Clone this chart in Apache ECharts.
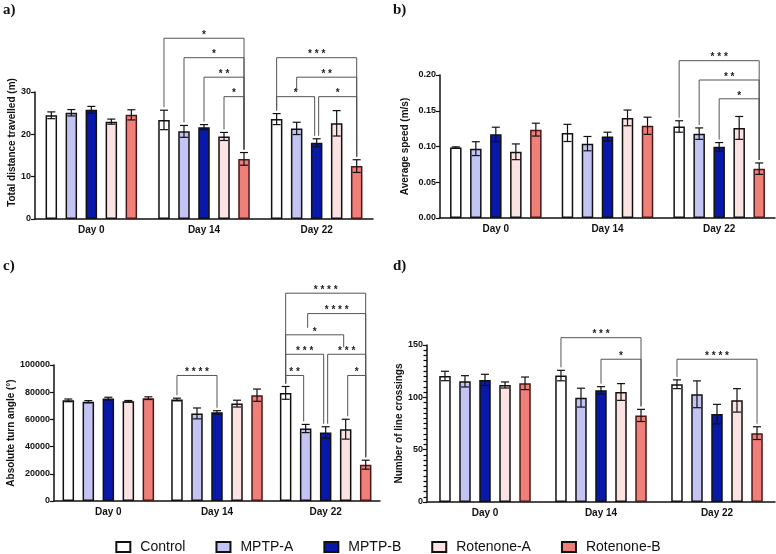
<!DOCTYPE html>
<html>
<head>
<meta charset="utf-8">
<script src="https://cdn.jsdelivr.net/npm/echarts@6/dist/echarts.min.js"></script>
<style>
  html, body { margin: 0; padding: 0; background: #fff; }
  #chart { width: 776px; height: 554px; }
</style>
</head>
<body>
<div id="chart"></div>
<script>
// categories
const days = ["Day 0", "Day 14", "Day 22"];
const groups = ["Control", "MPTP-A", "MPTP-B", "Rotenone-A", "Rotenone-B"];
const fills = ["#ffffff", "#c4c4f4", "#0818a8", "#fce3e3", "#ef8079"];
const borders = ["#111", "#111", "#111", "#111", "#4a1818"];

// a) total distance travelled (m), one row per group, one value per day
const distMean = [[24.5, 23.4, 23.6], [25.1, 20.7, 21.4], [25.8, 21.7, 18.0], [23.0, 19.5, 22.6], [24.6, 14.2, 12.5]];
const distErr = [[0.8, 2.3, 1.3], [0.75, 1.4, 1.45], [0.8, 0.6, 0.95], [0.6, 0.95, 3.0], [1.2, 1.5, 1.5]];
// [day, from group, to group, level, stars]
const distSig = [
  [1, 0, 4, 42.7, "*"], [1, 1, 4, 38.1, "*"], [1, 2, 4, 33.5, "**"], [1, 3, 4, 28.9, "*"],
  [2, 0, 4, 38.1, "***"], [2, 1, 4, 33.5, "**"], [2, 0, 2, 28.9, "*"], [2, 2, 4, 28.9, "*"]
];

// b) average speed (m/s)
const speedMean = [[0.0985, 0.119, 0.128], [0.097, 0.104, 0.118], [0.117, 0.114, 0.0995], [0.0926, 0.140, 0.126], [0.1236, 0.129, 0.069]];
const speedErr = [[0.001, 0.012, 0.008], [0.0097, 0.010, 0.008], [0.010, 0.006, 0.006], [0.011, 0.011, 0.016], [0.009, 0.012, 0.008]];
const speedSig = [[2, 0, 4, 0.220, "***"], [2, 1, 4, 0.193, "**"], [2, 2, 4, 0.1667, "*"]];

// c) absolute turn angle (°)
const turnMean = [[74000, 74600, 79500], [73000, 64400, 53300], [75300, 65200, 50400], [73300, 71600, 52800], [75600, 77800, 26700]];
const turnErr = [[1000, 1000, 4700], [800, 4000, 3000], [1000, 1200, 4200], [600, 2500, 7300], [1000, 4500, 3300]];
const turnSig = [
  [1, 0, 2, 92300, "****"],
  [2, 0, 4, 152800, "****"], [2, 1, 4, 137800, "****"], [2, 0, 3, 122200, "*"],
  [2, 0, 2, 107900, "***"], [2, 2, 4, 107900, "***"], [2, 0, 1, 92300, "**"], [2, 3, 4, 92300, "*"]
];

// d) number of line crossings
const crossMean = [[120.4, 120.8, 112.5], [115.3, 99.7, 102.9], [116.6, 106.7, 84.0], [111.8, 105.1, 97.1], [113.4, 82.7, 65.8]];
const crossErr = [[4.5, 5, 4.2], [5.4, 9, 12.8], [5.4, 3.5, 9.3], [2.9, 8, 11.2], [6, 5.8, 6.1]];
const crossSig = [[1, 0, 4, 157, "***"], [1, 2, 4, 136.4, "*"], [2, 0, 4, 136.4, "****"]];

const BAR_W = 11.5;
const BAR_GAP = 0.74;
const FONT = "'Liberation Sans', Arial, sans-serif";

function barX(api, day, g) {
  const c = api.coord([day, 0]);
  const total = groups.length * BAR_W + (groups.length - 1) * BAR_W * BAR_GAP;
  return c[0] - total / 2 + g * BAR_W * (1 + BAR_GAP) + BAR_W / 2;
}

const panels = [
  { mean: distMean, err: distErr, sig: distSig },
  { mean: speedMean, err: speedErr, sig: speedSig },
  { mean: turnMean, err: turnErr, sig: turnSig },
  { mean: crossMean, err: crossErr, sig: crossSig }
];

const series = [];
panels.forEach(function (p, pi) {
  groups.forEach(function (name, g) {
    series.push({
      name: name,
      type: "bar",
      xAxisIndex: pi,
      yAxisIndex: pi,
      barWidth: BAR_W,
      barGap: BAR_GAP * 100 + "%",
      data: p.mean[g],
      itemStyle: { color: fills[g], borderColor: borders[g], borderWidth: 1.5 },
      emphasis: { disabled: true },
      silent: true
    });
  });

  // error bars
  const errData = [];
  groups.forEach(function (name, g) {
    days.forEach(function (d, di) {
      errData.push([di, p.mean[g][di], p.err[g][di], g]);
    });
  });
  series.push({
    type: "custom",
    xAxisIndex: pi,
    yAxisIndex: pi,
    z: 5,
    silent: true,
    encode: { x: 0, y: 1 },
    data: errData,
    renderItem: function (params, api) {
      const di = api.value(0), m = api.value(1), e = api.value(2), g = api.value(3);
      const x = barX(api, di, g);
      const top = api.coord([di, m + e])[1];
      const bot = api.coord([di, m - e])[1];
      const st = { stroke: "#111", lineWidth: 1.2 };
      return {
        type: "group",
        children: [
          { type: "line", shape: { x1: x, y1: top, x2: x, y2: bot }, style: st },
          { type: "line", shape: { x1: x - 4, y1: top, x2: x + 4, y2: top }, style: st },
          { type: "line", shape: { x1: x - 4, y1: bot, x2: x + 4, y2: bot }, style: st }
        ]
      };
    }
  });

  // significance brackets
  series.push({
    type: "custom",
    xAxisIndex: pi,
    yAxisIndex: pi,
    z: 6,
    silent: true,
    clip: false,
    encode: { x: 0, y: 1 },
    data: p.sig.map(function (b) { return [b[0], b[3]]; }),
    renderItem: function (params, api) {
      const b = p.sig[params.dataIndex];
      const di = b[0], from = b[1], to = b[2], level = b[3];
      const same = p.sig.filter(function (o) { return o[0] === di && o !== b; });
      function legBottom(g) {
        let block = null;
        same.forEach(function (o) {
          if (o[3] < level && o[1] < g && g < o[2]) block = block === null ? o[3] : Math.max(block, o[3]);
        });
        if (block !== null) return api.coord([di, block])[1] - 7;
        return api.coord([di, p.mean[g][di] + p.err[g][di]])[1] - 3;
      }
      let xl = barX(api, di, from);
      let xr = barX(api, di, to);
      if (same.some(function (o) { return o[2] === from; })) xl += 2;
      if (same.some(function (o) { return o[1] === to; })) xr -= 2;
      const y = api.coord([di, level])[1];
      const st = { stroke: "#555", lineWidth: 1 };
      return {
        type: "group",
        children: [
          { type: "polyline", shape: { points: [[xl, legBottom(from)], [xl, y], [xr, y], [xr, legBottom(to)]] }, style: Object.assign({ fill: null }, st) },
          { type: "text", style: { x: (xl + xr) / 2, y: y + 2, text: b[4].split("").join(" "), font: "bold 10px " + FONT, fill: "#222", align: "center", verticalAlign: "bottom" } }
        ]
      };
    }
  });
});

const labelStyle = { fontSize: 9, fontWeight: "bold", color: "#111", margin: 4, fontFamily: FONT };
const nameStyle = { fontSize: 10, fontWeight: "bold", color: "#111", fontFamily: FONT };

function yAxis(gi, max, interval, name, nameGap, extra) {
  return Object.assign({
    type: "value",
    gridIndex: gi,
    min: 0,
    max: max,
    interval: interval,
    name: name,
    nameLocation: "middle",
    nameGap: nameGap,
    nameTextStyle: nameStyle,
    axisLine: { show: true, lineStyle: { color: "#111", width: 1.5 } },
    axisTick: { show: true, length: 4, lineStyle: { color: "#111", width: 1.2 } },
    axisLabel: labelStyle,
    splitLine: { show: false }
  }, extra || {});
}

function xAxis(gi) {
  return {
    type: "category",
    gridIndex: gi,
    data: days,
    axisLine: { lineStyle: { color: "#111", width: 1.5 } },
    axisTick: { alignWithLabel: true, length: 4, lineStyle: { color: "#111", width: 1.2 } },
    axisLabel: { fontSize: 10, fontWeight: "bold", color: "#111", margin: 6, fontFamily: FONT }
  };
}

function panelLabel(text, x, y) {
  return { type: "text", left: x, top: y, style: { text: text, font: "bold 15px 'Liberation Serif', 'DejaVu Serif', serif", fill: "#111" } };
}

const chart = echarts.init(document.getElementById("chart"), null, { renderer: "canvas" });
chart.setOption({
  animation: false,
  textStyle: { fontFamily: FONT },
  grid: [
    { left: 35, top: 92, width: 338, height: 127 },
    { left: 440, top: 75, width: 335, height: 143 },
    { left: 54, top: 365, width: 326, height: 136 },
    { left: 427, top: 345, width: 348, height: 157 }
  ],
  xAxis: [xAxis(0), xAxis(1), xAxis(2), xAxis(3)],
  yAxis: [
    yAxis(0, 30, 10, "Total distance travelled (m)", 17, { nameTextStyle: Object.assign({}, nameStyle, { padding: [0, 0, 0, 26] }) }),
    yAxis(1, 0.2, 0.05, "Average speed (m/s)", 30, { axisLabel: Object.assign({}, labelStyle, { formatter: function (v) { return v.toFixed(2); } }) }),
    yAxis(2, 100000, 20000, "Absolute turn angle (°)", 36, { axisLabel: Object.assign({}, labelStyle, { formatter: function (v) { return String(v); } }) }),
    yAxis(3, 150, 50, "Number of line crossings", 20, {
      minorTick: { show: true, splitNumber: 10, length: 3.5, lineStyle: { color: "#000", width: 1.2 } }
    })
  ],
  legend: {
    data: groups,
    top: 535,
    left: "center",
    itemWidth: 14,
    itemHeight: 10,
    itemGap: 30,
    icon: "rect",
    itemStyle: { borderColor: "#111", borderWidth: 2 },
    textStyle: { fontSize: 14, color: "#111", fontFamily: FONT, padding: [0, 0, 0, 5] },
    selectedMode: false
  },
  graphic: [
    panelLabel("a)", 3, 3),
    panelLabel("b)", 393, 3),
    panelLabel("c)", 3, 259),
    panelLabel("d)", 393, 259)
  ],
  series: series
});
</script>
</body>
</html>
